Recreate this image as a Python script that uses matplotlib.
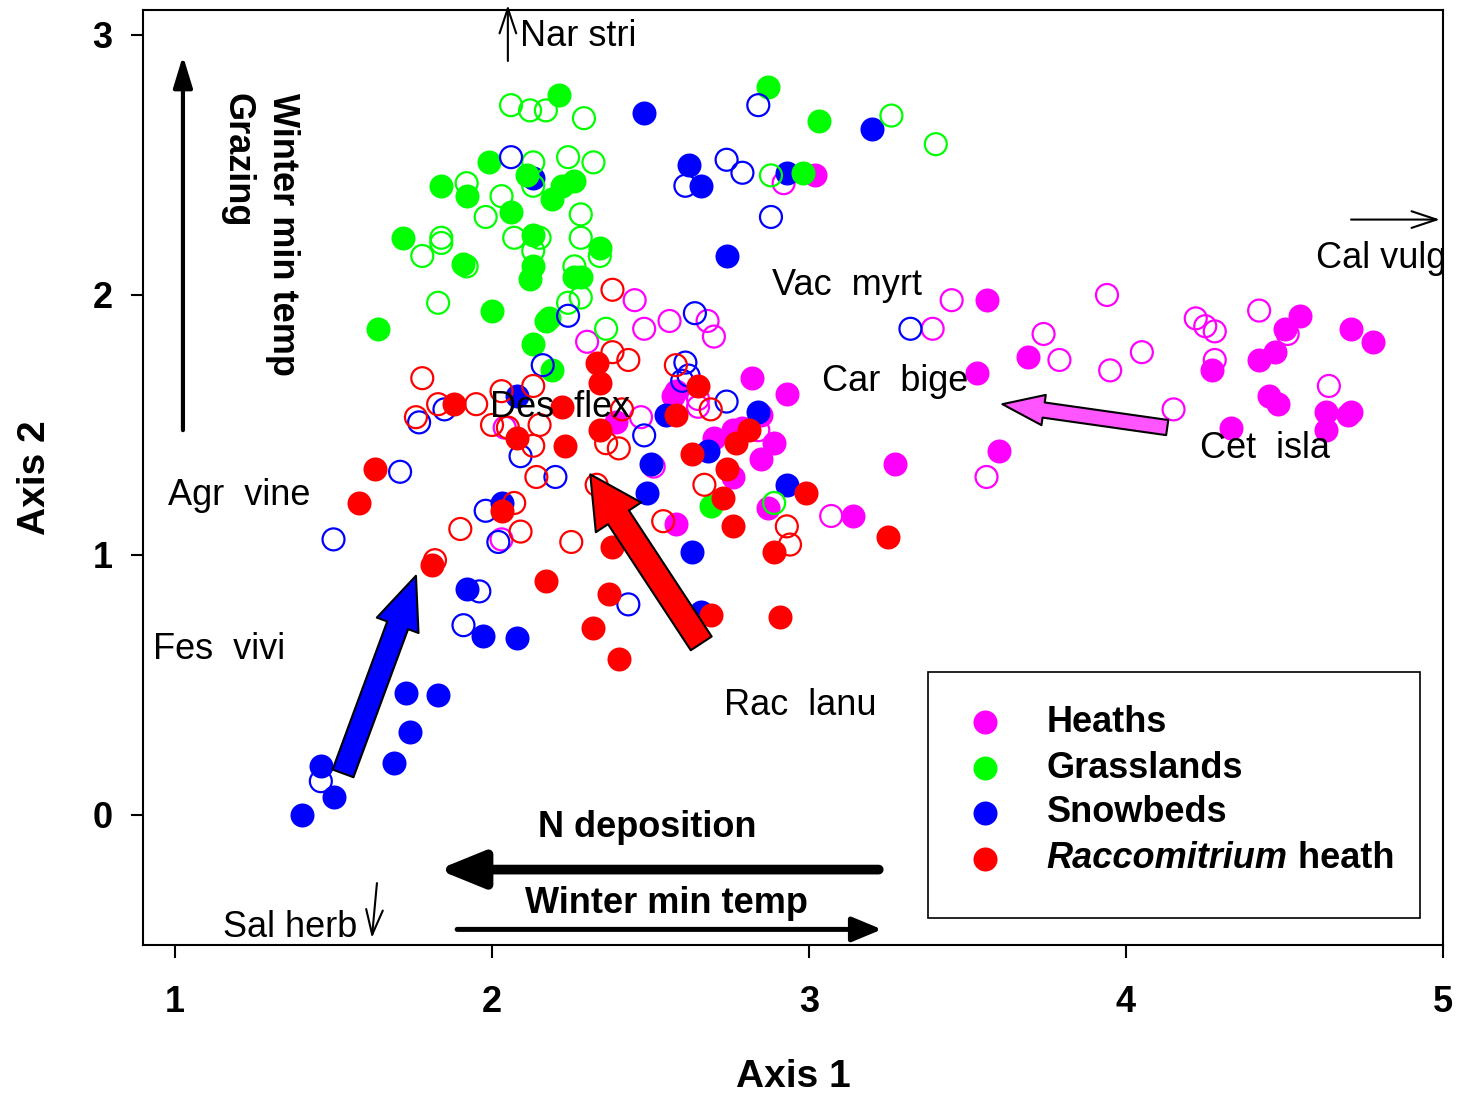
import matplotlib
matplotlib.use("Agg")
import matplotlib.pyplot as plt
from matplotlib.patches import FancyArrowPatch, Rectangle

plt.rcParams['font.family'] = ['Liberation Sans', 'DejaVu Sans']

# ---- site scores (Axis 1, Axis 2) ----
# Heaths
heath_fill_x = [3.02, 3.56, 3.53, 3.60, 3.27, 3.14, 2.93, 2.82, 3.69, 4.27, 4.42, 4.47,
                4.50, 4.55, 4.71, 4.78, 4.45, 4.48, 4.33, 4.63, 4.71, 4.70, 4.63, 2.70,
                2.76, 2.79, 2.89, 2.85, 2.76, 2.85, 2.39, 2.58, 2.87, 2.58, 2.57]
heath_fill_y = [2.46, 1.98, 1.70, 1.40, 1.35, 1.15, 1.62, 1.68, 1.76, 1.71, 1.75, 1.78,
                1.87, 1.92, 1.87, 1.82, 1.61, 1.58, 1.49, 1.55, 1.55, 1.54, 1.48, 1.45,
                1.48, 1.49, 1.43, 1.37, 1.30, 1.54, 1.51, 1.12, 1.18, 1.63, 1.61]
heath_open_x = [3.94, 3.74, 3.79, 3.95, 4.05, 4.22, 4.25, 4.28, 4.42, 4.28, 4.51, 4.64,
                4.15, 3.45, 3.39, 3.56, 3.07, 2.92, 2.45, 2.48, 2.56, 2.68, 2.70, 2.47,
                2.51, 2.65, 2.65, 2.84, 2.30, 2.04, 2.03]
heath_open_y = [2.00, 1.85, 1.75, 1.71, 1.78, 1.91, 1.88, 1.86, 1.94, 1.75, 1.85, 1.65,
                1.56, 1.98, 1.87, 1.30, 1.15, 2.43, 1.98, 1.87, 1.90, 1.90, 1.84, 1.53,
                1.34, 1.57, 1.60, 1.48, 1.82, 1.49, 1.06]

# Grasslands
grass_fill_x = [2.21, 1.99, 2.11, 2.19, 2.22, 2.26, 1.84, 1.92, 2.06, 1.72, 2.13, 1.91,
                2.13, 2.12, 2.34, 2.28, 2.26, 2.00, 2.17, 1.64, 2.13, 2.18, 2.19, 2.69,
                2.87, 3.03, 2.98]
grass_fill_y = [2.77, 2.51, 2.46, 2.37, 2.42, 2.44, 2.42, 2.38, 2.32, 2.22, 2.23, 2.12,
                2.11, 2.06, 2.18, 2.07, 2.07, 1.94, 1.90, 1.87, 1.81, 1.91, 1.71, 1.19,
                2.80, 2.67, 2.47]
grass_open_x = [2.06, 2.12, 2.17, 2.29, 2.24, 2.32, 2.13, 2.13, 1.92, 2.03, 1.98, 2.28,
                2.07, 1.84, 1.84, 1.78, 2.13, 2.28, 2.34, 1.92, 2.26, 2.28, 2.24, 1.83,
                2.36, 2.15, 3.26, 3.40, 2.88, 2.89]
grass_open_y = [2.73, 2.71, 2.71, 2.68, 2.53, 2.51, 2.51, 2.42, 2.43, 2.38, 2.30, 2.31,
                2.22, 2.22, 2.20, 2.15, 2.17, 2.22, 2.15, 2.11, 2.11, 1.99, 1.97, 1.97,
                1.87, 2.22, 2.69, 2.58, 2.46, 1.20]

# Snowbeds
snow_fill_x = [2.48, 2.62, 2.66, 2.93, 3.20, 2.74, 2.13, 2.08, 2.03, 2.55, 2.50, 2.49,
               2.63, 1.92, 1.97, 2.08, 2.66, 2.68, 2.84, 2.93, 1.73, 1.83, 1.74, 1.69,
               1.46, 1.50, 1.40]
snow_fill_y = [2.70, 2.50, 2.42, 2.47, 2.64, 2.15, 2.45, 1.61, 1.20, 1.54, 1.35, 1.24,
               1.01, 0.87, 0.69, 0.68, 0.78, 1.40, 1.55, 1.27, 0.47, 0.46, 0.32, 0.20,
               0.19, 0.07, 0.00]
snow_open_x = [2.84, 2.74, 2.79, 2.61, 2.88, 2.64, 3.32, 2.06, 2.24, 2.16, 1.85, 1.77,
               1.71, 1.50, 2.09, 2.20, 1.98, 2.02, 2.48, 2.61, 2.62, 2.60, 1.96, 1.91,
               2.43, 2.74, 1.46]
snow_open_y = [2.73, 2.52, 2.47, 2.42, 2.30, 1.93, 1.87, 2.53, 1.92, 1.73, 1.56, 1.51,
               1.32, 1.06, 1.38, 1.30, 1.17, 1.05, 1.46, 1.74, 1.69, 1.67, 0.86, 0.73,
               0.81, 1.59, 0.13]

# Raccomitrium heath
racc_fill_x = [1.63, 1.58, 1.81, 1.88, 2.08, 2.23, 2.03, 2.33, 2.34, 2.22, 2.34, 2.38,
               2.17, 2.37, 2.32, 2.65, 2.63, 2.58, 2.81, 2.77, 2.74, 2.73, 2.76, 2.99,
               2.89, 3.25, 2.91, 2.69, 2.40]
racc_fill_y = [1.33, 1.20, 0.96, 1.58, 1.45, 1.42, 1.17, 1.74, 1.66, 1.57, 1.48, 1.03,
               0.90, 0.85, 0.72, 1.65, 1.39, 1.54, 1.48, 1.43, 1.33, 1.22, 1.11, 1.24,
               1.01, 1.07, 0.76, 0.77, 0.60]
racc_open_x = [1.78, 1.83, 1.76, 1.95, 2.03, 2.13, 2.00, 2.05, 2.15, 2.13, 2.14, 2.33,
               2.38, 2.43, 2.58, 2.36, 2.40, 2.41, 2.07, 2.09, 1.90, 2.25, 1.82, 2.67,
               2.54, 2.93, 2.94, 2.69, 2.38]
racc_open_y = [1.68, 1.58, 1.53, 1.58, 1.63, 1.65, 1.50, 1.49, 1.50, 1.42, 1.30, 1.27,
               1.78, 1.75, 1.73, 1.43, 1.41, 1.56, 1.20, 1.09, 1.10, 1.05, 0.98, 1.27,
               1.13, 1.11, 1.04, 1.56, 2.02]

groups = ['Heaths', 'Grasslands', 'Snowbeds', 'Raccomitrium heath']
colors = ['#ff00ff', '#00ff00', '#0000ff', '#ff0000']

# species labels: (name, x, y)
species = [('Nar stri', 2.088, 2.995), ('Cal vulg', 4.599, 2.14), ('Vac  myrt', 2.883, 2.036),
           ('Car  bige', 3.041, 1.667), ('Cet  isla', 4.233, 1.409), ('Des  flex', 1.994, 1.567),
           ('Agr  vine', 0.978, 1.228), ('Fes  vivi', 0.931, 0.636), ('Rac  lanu', 2.732, 0.421),
           ('Sal herb', 1.151, -0.433)]

fig = plt.figure(figsize=(14.58, 10.97), dpi=100)
ax = fig.add_axes([143/1458, 1 - 945/1097, 1300/1458, 935/1097])

s_fill = 17.3**2
s_open = 15.8**2
ax.scatter(heath_fill_x, heath_fill_y, s=s_fill, c=colors[0], lw=0)
ax.scatter(heath_open_x, heath_open_y, s=s_open, facecolors='none', edgecolors=colors[0], lw=1.6)
ax.scatter(snow_fill_x, snow_fill_y, s=s_fill, c=colors[2], lw=0)
ax.scatter(grass_fill_x, grass_fill_y, s=s_fill, c=colors[1], lw=0)
ax.scatter(grass_open_x, grass_open_y, s=s_open, facecolors='none', edgecolors=colors[1], lw=1.6)
ax.scatter(snow_open_x, snow_open_y, s=s_open, facecolors='none', edgecolors=colors[2], lw=1.6)
ax.scatter(racc_fill_x, racc_fill_y, s=s_fill, c=colors[3], lw=0)
ax.scatter(racc_open_x, racc_open_y, s=s_open, facecolors='none', edgecolors=colors[3], lw=1.6)

# species names
for name, x, y in species:
    ax.text(x, y, name, fontsize=26, ha='left', va='center', clip_on=True)

# thin species arrows
thin = dict(arrowstyle='->,head_length=0.9,head_width=0.3', lw=1.5, color='black',
            mutation_scale=20, shrinkA=0, shrinkB=0)
ax.annotate('', xy=(2.05, 3.115), xytext=(2.05, 2.90), arrowprops=thin, annotation_clip=False)
ax.annotate('', xy=(4.99, 2.29), xytext=(4.71, 2.29), arrowprops=thin)
ax.annotate('', xy=(1.621, -0.473), xytext=(1.637, -0.262), arrowprops=thin)

# big block arrows
def block_arrow(x0, y0, x1, y1, fc, hl, hw, tw):
    ax.add_patch(FancyArrowPatch((x0, y0), (x1, y1),
                                 arrowstyle=f'simple,head_length={hl},head_width={hw},tail_width={tw}',
                                 mutation_scale=1, fc=fc, ec='black', lw=1.5,
                                 shrinkA=0, shrinkB=0, zorder=3))

block_arrow(1.53, 0.16, 1.76, 0.92, '#0000ff', 38, 32, 16)
block_arrow(2.66, 0.66, 2.31, 1.31, '#ff0000', 37, 39, 18)
block_arrow(4.13, 1.49, 3.61, 1.58, '#ff55ff', 30, 22, 11)

# environmental gradient arrows
ax.annotate('', xy=(1.025, 2.92), xytext=(1.025, 1.48),
            arrowprops=dict(arrowstyle='-|>,head_length=1.9,head_width=0.58', lw=3,
                            color='black', mutation_scale=10, shrinkA=0, shrinkB=0))
ax.text(1.34, 2.777, 'Winter min temp', fontsize=26, fontweight='bold', rotation=270,
        ha='center', va='top')
ax.text(1.196, 2.777, 'Grazing', fontsize=26, fontweight='bold', rotation=270,
        ha='center', va='top')

ax.annotate('', xy=(1.83, -0.21), xytext=(3.22, -0.21),
            arrowprops=dict(arrowstyle='-|>,head_length=2.7,head_width=1.1', lw=7,
                            color='black', mutation_scale=10, shrinkA=0, shrinkB=0))
ax.text(2.49, -0.05, 'N deposition', fontsize=26, fontweight='bold', ha='center', va='center')
ax.annotate('', xy=(3.23, -0.44), xytext=(1.89, -0.44),
            arrowprops=dict(arrowstyle='-|>,head_length=1.8,head_width=0.75', lw=3.6,
                            color='black', mutation_scale=10, shrinkA=0, shrinkB=0))
ax.text(2.55, -0.34, 'Winter min temp', fontsize=26, fontweight='bold', ha='center', va='center')

# legend (drawn by hand so the label can mix italic and upright)
ax.add_patch(Rectangle((0.604, 0.029), 0.378, 0.263, transform=ax.transAxes,
                       fill=False, ec='black', lw=1.2, zorder=5))
leg_y = [0.2385, 0.1893, 0.1412, 0.092]
for i, (g, col) in enumerate(zip(groups, colors)):
    ax.scatter([0.648], [leg_y[i]], s=s_fill, c=col, lw=0, transform=ax.transAxes, zorder=6)
    if g == 'Raccomitrium heath':
        t = ax.text(0.695, leg_y[i], 'Raccomitrium', fontsize=26, fontweight='bold',
                    fontstyle='italic', ha='left', va='center', transform=ax.transAxes, zorder=6)
        ax.annotate(' heath', xy=(1, 0), xycoords=t, fontsize=26, fontweight='bold',
                    ha='left', va='bottom', zorder=6)
    else:
        ax.text(0.695, leg_y[i], g, fontsize=26, fontweight='bold', ha='left', va='center',
                transform=ax.transAxes, zorder=6)

ax.set_xlim(0.899, 5.0)
ax.set_ylim(-0.5, 3.096)
ax.set_xticks([1, 2, 3, 4, 5])
ax.set_yticks([0, 1, 2, 3])
ax.tick_params(direction='out', length=9, width=1.5, labelsize=26)
ax.tick_params(axis='x', pad=20)
ax.tick_params(axis='y', pad=13)
for lab in ax.get_xticklabels() + ax.get_yticklabels():
    lab.set_fontweight('bold')
for sp in ax.spines.values():
    sp.set_linewidth(1.5)

ax.set_xlabel('Axis 1', fontsize=28, fontweight='bold', labelpad=28)
ax.set_ylabel('Axis 2', fontsize=28, fontweight='bold', labelpad=28)

fig.savefig('out.png', dpi=100)
